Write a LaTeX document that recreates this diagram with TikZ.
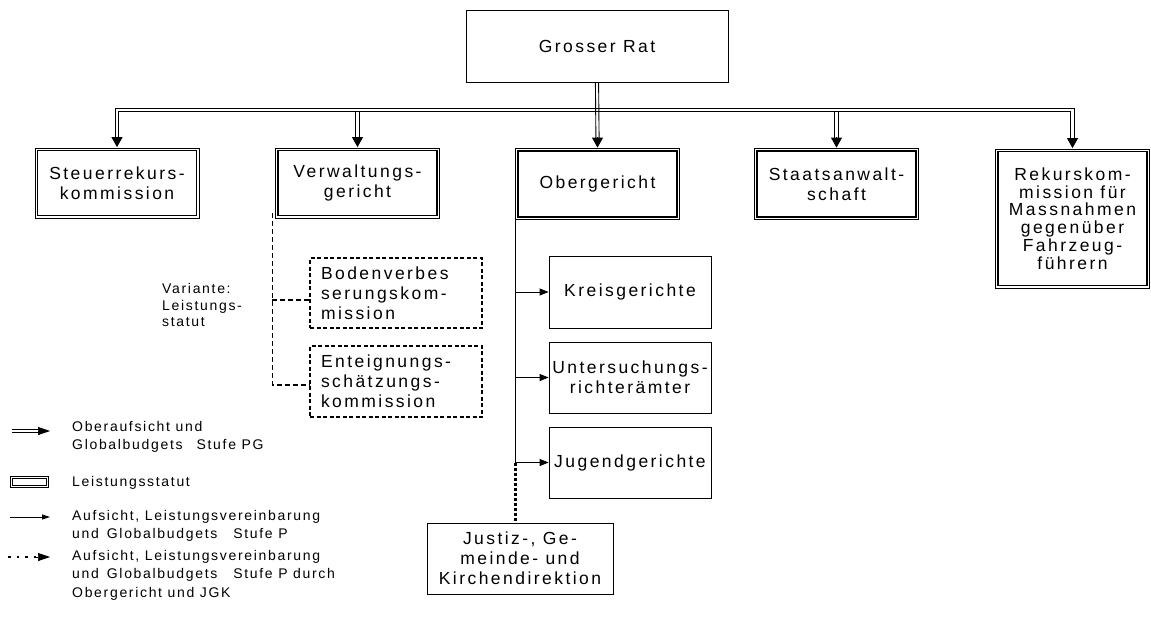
\documentclass[tikz,border=0pt]{standalone}
\usepackage{fontspec}
\setmainfont{Liberation Sans}[LetterSpace=14]
\newfontfamily\legfont{Liberation Sans}[LetterSpace=12]
\usetikzlibrary{arrows.meta}
\begin{document}
\begin{tikzpicture}[x=1pt,y=-1pt,
  bf/.style={font=\fontsize{17.5}{20}\selectfont},
  dbox/.style={draw, line width=0.8pt, inner sep=0pt, align=center, bf},
  sbox/.style={draw, line width=0.8pt, inner sep=0pt, align=center, bf},
  dashbox/.style={draw, line width=1.1pt, dash pattern=on 4pt off 2.5pt, inner sep=0pt, align=left, bf},
  dl/.style={line width=0.9pt},
  dashline/.style={line width=1.1pt, dash pattern=on 5pt off 3pt},
  dotline/.style={line width=3pt, dash pattern=on 3pt off 2pt},
  tipline/.style={-{Triangle[length=10pt,width=11pt]}, line width=0.8pt},
  smalltip/.style={-{Triangle[length=9pt,width=7pt]}, line width=0.8pt},
  lf/.style={font=\legfont\fontsize{14}{18.5}\selectfont, align=left, inner sep=0pt, anchor=west}
]
\useasboundingbox (0,0) rectangle (1151,616);

% top
\node[sbox, minimum width=262, minimum height=72] (gr) at (597,46) {Grosser Rat};

% second row
\node[dbox, minimum width=164, minimum height=70] (steu) at (117,183) {Steuerrekurs-\\kommission};
\node[dbox, minimum width=164, minimum height=70] (verw) at (357.5,183) {Verwaltungs-\\gericht};
\node[dbox, minimum width=164, minimum height=71] (ober) at (597.5,184) {Obergericht};
\node[dbox, minimum width=164, minimum height=71] (staat) at (836.5,184) {Staatsanwalt-\\schaft};
\node[dbox, minimum width=154, minimum height=139, font=\fontsize{17.5}{17.7}\selectfont] (rek) at (1072.5,218.5)
  {Rekurskom-\\mission für\\Massnahmen\\gegenüber\\Fahrzeug-\\führern};
\foreach \n in {steu,verw,ober,staat,rek}
  \draw[line width=1.3pt] ([shift={(2.9pt,-2.9pt)}]\n.north west) rectangle ([shift={(-2.9pt,2.9pt)}]\n.south east);

% bus (double lines drawn as two strokes)
\coordinate (bus) at (597,110);
\coordinate (busUp) at ([yshift=1.6pt]bus);
\coordinate (busLo) at ([yshift=-1.6pt]bus);
\draw[dl] ([xshift=-1.6pt,yshift=10pt]steu.north) |- (busUp) -| ([xshift=1.6pt,yshift=10pt]rek.north);
\draw[dl] ([xshift=1.6pt,yshift=10pt]steu.north) |- (busLo) -| ([xshift=-1.6pt,yshift=10pt]rek.north);
\draw[dl] ([xshift=-1.6pt]gr.south) -- ([xshift=-1.6pt,yshift=10pt]ober.north);
\draw[dl] ([xshift=1.6pt]gr.south) -- ([xshift=1.6pt,yshift=10pt]ober.north);
\foreach \n in {verw,staat}{
  \draw[dl] (\n.north |- busLo) ++(-1.6pt,0) -- ([xshift=-1.6pt,yshift=10pt]\n.north);
  \draw[dl] (\n.north |- busLo) ++(1.6pt,0) -- ([xshift=1.6pt,yshift=10pt]\n.north);
}
\foreach \n in {steu,verw,ober,staat,rek}
  \draw[tipline] ([yshift=11pt]\n.north) -- ([yshift=0.5pt]\n.north);

% dashed boxes
\node[dashbox, minimum width=172, minimum height=70, text width=150] (boden) at (396,293)
  {Bodenverbes\\serungskom-\\mission};
\node[dashbox, minimum width=172, minimum height=71, text width=150] (ent) at (396,381.5)
  {Enteignungs-\\schätzungs-\\kommission};
\coordinate (dtop) at ([xshift=-3pt,yshift=5pt]verw.south west);
\coordinate (bj) at ([yshift=-7pt]boden.west);
\coordinate (ej) at ([yshift=-3.5pt]ent.west);
\draw[dashline] (dtop) |- (ej);
\draw[dashline] (dtop |- bj) -- (bj);

\node[lf, font=\legfont\fontsize{14}{16.5}\selectfont] (var) at (162,305) {Variante:\\Leistungs-\\statut};

% Obergericht subordinates
\node[sbox, minimum width=162, minimum height=72] (kreis) at (630,292) {Kreisgerichte};
\node[sbox, minimum width=162, minimum height=71] (unt) at (630,377.5) {Untersuchungs-\\richterämter};
\node[sbox, minimum width=162, minimum height=71] (jug) at (630,462.5) {Jugendgerichte};
\node[sbox, minimum width=186, minimum height=71] (jus) at (520,558.5) {Justiz-, Ge-\\meinde- und\\Kirchendirektion};

\draw[line width=1pt] (ober.south west) -- (ober.south west |- jug.west);
\draw[dotline] (ober.south west |- jug.west) -- (ober.south west |- jus.north);
\foreach \n in {kreis,unt,jug}
  \draw[smalltip] (ober.south west |- \n.west) -- (\n.west);

% legend
\coordinate (l1a) at (12,431);
\coordinate (l1m) at (39,431);
\coordinate (l1b) at (50,431);
\draw[dl] ([yshift=1.5pt]l1a) -- ([yshift=1.5pt]l1m);
\draw[dl] ([yshift=-1.5pt]l1a) -- ([yshift=-1.5pt]l1m);
\draw[-{Triangle[length=12pt,width=8pt]}, line width=0.7pt] ([xshift=-1pt]l1m) -- (l1b);
\node[lf] (t1) at (72,437) {Oberaufsicht und\\Globalbudgets\hspace{14pt}Stufe PG};

\node[draw, line width=0.9pt, minimum width=38, minimum height=11, inner sep=0pt] (lrect) at (29.5,482) {};
\draw[line width=1.2pt] ([shift={(2.6pt,-2.6pt)}]lrect.north west) rectangle ([shift={(-2.6pt,2.6pt)}]lrect.south east);
\node[lf] (t2) at (72,483) {Leistungsstatut};

\coordinate (l3a) at (10,517);
\coordinate (l3b) at (50,517);
\draw[-{Triangle[length=8pt,width=5pt]}, line width=0.8pt] (l3a) -- (l3b);
\node[lf] (t3) at (72,526) {Aufsicht, Leistungsvereinbarung\\und\hspace{8pt}Globalbudgets\hspace{16pt}Stufe P};

\coordinate (l4a) at (8,557);
\coordinate (l4m) at (36,557);
\coordinate (l4b) at (50,557);
\draw[line width=2.5pt, dash pattern=on 2.5pt off 6pt] (l4a) -- (l4m);
\draw[-{Triangle[length=12pt,width=8pt]}, line width=0.7pt] ([xshift=-1pt]l4m) -- (l4b);
\node[lf] (t4) at (72,575) {Aufsicht, Leistungsvereinbarung\\und\hspace{8pt}Globalbudgets\hspace{16pt}Stufe P durch\\Obergericht und JGK};
\end{tikzpicture}
\end{document}
